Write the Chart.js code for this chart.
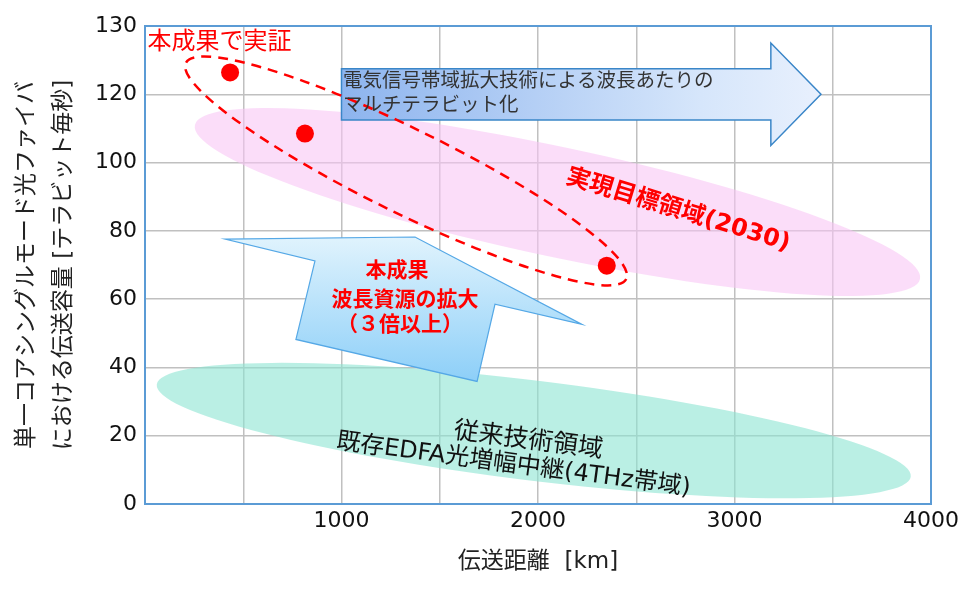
<!DOCTYPE html>
<html>
<head>
<meta charset="utf-8">
<script src="https://cdn.jsdelivr.net/npm/chart.js@4.4.1/dist/chart.umd.min.js"></script>
<style>
  html, body { margin: 0; padding: 0; background: #fff; }
</style>
</head>
<body>
<canvas id="chart" width="967" height="589"></canvas>
<script>
// measured results (distance km, capacity Tb/s)
const distanceKm = [433, 814, 2350];
const capacityTbps = [126.4, 108.5, 69.8];

const xTickValues = [0, 500, 1000, 1500, 2000, 2500, 3000, 3500, 4000];
const xTickLabels = ["", "", "1000", "", "2000", "", "3000", "", "4000"];
const yTickValues = [0, 20, 40, 60, 80, 100, 120, 140];
const yTickLabels = ["0", "20", "40", "60", "80", "100", "120", "130"];

const JP = "'Noto Sans CJK JP', 'Noto Sans', sans-serif";
const MIX = "'DejaVu Sans', 'Noto Sans CJK JP', sans-serif";
const NUM = "'DejaVu Sans', Verdana, sans-serif";

// annotation shapes, in axis units
const targetZone = { from: [254, 111.0], to: [3944, 65.9], half: 55 };
const legacyZone = { from: [60, 35.0], to: [3897, 8.0], half: 50 };
const provenZone = { from: [208, 129.2], to: [2449, 65.9], half: 42 };
const bandArrow = { x0: 1000, top: 127.5, bottom: 112.5, headX: 3185, headTop: 135, headBottom: 105, tipX: 3440, tipY: 120 };
const gridArrow = [[407, 77.6], [1374, 78.2], [2224, 52.6], [1781, 58.5], [1690, 35.9], [768, 48.2], [865, 71.2]];

function ellipsePath(ctx, p1, p2, b) {
  const cx = (p1[0] + p2[0]) / 2, cy = (p1[1] + p2[1]) / 2;
  const dx = p2[0] - p1[0], dy = p2[1] - p1[1];
  ctx.beginPath();
  ctx.ellipse(cx, cy, Math.hypot(dx, dy) / 2, b, Math.atan2(dy, dx), 0, Math.PI * 2);
}

function rotText(ctx, str, x, y, deg) {
  ctx.save();
  ctx.translate(x, y);
  ctx.rotate(deg * Math.PI / 180);
  ctx.fillText(str, 0, 0);
  ctx.restore();
}

const overlay = {
  id: 'overlay',
  beforeDatasetsDraw(chart) {
    const ctx = chart.ctx;
    const xs = chart.scales.x, ys = chart.scales.y;
    const P = (v) => [xs.getPixelForValue(v[0]), ys.getPixelForValue(v[1])];
    const X = (v) => xs.getPixelForValue(v), Y = (v) => ys.getPixelForValue(v);
    const area = chart.chartArea;

    ctx.save();
    // plot frame
    ctx.strokeStyle = '#5b9bd5';
    ctx.lineWidth = 2;
    ctx.strokeRect(area.left, area.top, area.right - area.left, area.bottom - area.top);

    // zones
    ellipsePath(ctx, P(legacyZone.from), P(legacyZone.to), legacyZone.half);
    ctx.fillStyle = 'rgba(140, 228, 210, 0.6)';
    ctx.fill();
    ellipsePath(ctx, P(targetZone.from), P(targetZone.to), targetZone.half);
    ctx.fillStyle = 'rgba(248, 196, 244, 0.58)';
    ctx.fill();

    // right arrow
    const a = bandArrow;
    let g = ctx.createLinearGradient(X(a.x0), 0, X(a.tipX), 0);
    g.addColorStop(0, '#8db4ee');
    g.addColorStop(0.75, '#d6e6fb');
    g.addColorStop(1, '#e8f0fd');
    ctx.beginPath();
    ctx.moveTo(X(a.x0), Y(a.top));
    ctx.lineTo(X(a.headX), Y(a.top));
    ctx.lineTo(X(a.headX), Y(a.headTop));
    ctx.lineTo(X(a.tipX), Y(a.tipY));
    ctx.lineTo(X(a.headX), Y(a.headBottom));
    ctx.lineTo(X(a.headX), Y(a.bottom));
    ctx.lineTo(X(a.x0), Y(a.bottom));
    ctx.closePath();
    ctx.fillStyle = g;
    ctx.fill();
    ctx.strokeStyle = '#3a86c8';
    ctx.lineWidth = 1.5;
    ctx.stroke();

    // tilted up arrow
    const pts = gridArrow.map(P);
    g = ctx.createLinearGradient(0, Y(78.2), 0, Y(35.9));
    g.addColorStop(0, '#e0f3fd');
    g.addColorStop(1, '#8dcff8');
    ctx.beginPath();
    pts.forEach((p, i) => i ? ctx.lineTo(p[0], p[1]) : ctx.moveTo(p[0], p[1]));
    ctx.closePath();
    ctx.fillStyle = g;
    ctx.fill();
    ctx.strokeStyle = '#55a8e6';
    ctx.lineWidth = 1.2;
    ctx.stroke();

    // dashed outline around measured points
    ellipsePath(ctx, P(provenZone.from), P(provenZone.to), provenZone.half);
    ctx.setLineDash([10, 7]);
    ctx.strokeStyle = '#ff0000';
    ctx.lineWidth = 2.5;
    ctx.stroke();
    ctx.setLineDash([]);

    // texts
    ctx.textBaseline = 'middle';
    ctx.fillStyle = '#ff0000';
    ctx.textAlign = 'center';
    ctx.font = `24px ${JP}`;
    ctx.fillText('本成果で実証', X(379), Y(136));

    ctx.textAlign = 'left';
    ctx.fillStyle = '#333333';
    ctx.font = `19.5px ${JP}`;
    ctx.fillText('電気信号帯域拡大技術による波長あたりの', X(1008), Y(124.4));
    ctx.fillText('マルチテラビット化', X(1008), Y(117.4));

    ctx.textAlign = 'center';
    ctx.fillStyle = '#ff0000';
    ctx.font = `bold 21px ${JP}`;
    ctx.fillText('本成果', X(1282), Y(68.8));
    ctx.fillText('波長資源の拡大', X(1323), Y(60.3));
    ctx.fillText('（３倍以上）', X(1298), Y(52.9));

    ctx.font = `bold 24px ${MIX}`;
    rotText(ctx, '実現目標領域(2030)', X(2712), Y(85.9), 17);

    ctx.fillStyle = '#111111';
    ctx.font = `25px ${JP}`;
    rotText(ctx, '従来技術領域', X(1952), Y(19.3), 7.5);
    ctx.font = `24px ${MIX}`;
    rotText(ctx, '既存EDFA光増幅中継(4THz帯域)', X(1875), Y(11.3), 7.5);
    ctx.restore();
  }
};

new Chart(document.getElementById('chart').getContext('2d'), {
  type: 'scatter',
  data: {
    datasets: [{
      data: distanceKm.map((d, i) => ({ x: d, y: capacityTbps[i] })),
      backgroundColor: '#ff0000',
      borderWidth: 0,
      pointRadius: 9,
      pointHoverRadius: 9,
    }],
  },
  options: {
    responsive: false,
    animation: false,
    events: [],
    layout: { padding: { left: 0, top: 26, right: 36, bottom: 0 } },
    plugins: { legend: { display: false }, tooltip: { enabled: false } },
    scales: {
      x: {
        type: 'linear',
        min: 0,
        max: 4000,
        afterFit: (s) => { s.height = 85; },
        afterBuildTicks: (s) => { s.ticks = xTickValues.map((v) => ({ value: v })); },
        ticks: {
          autoSkip: false,
          maxRotation: 0,
          padding: 4,
          color: '#111',
          font: { family: NUM, size: 22 },
          callback: (v) => xTickLabels[xTickValues.indexOf(v)],
        },
        grid: { color: '#c0c0c0', lineWidth: 1.5, drawTicks: false },
        border: { color: '#5b9bd5', width: 2 },
        title: {
          display: true,
          text: '伝送距離  [km]',
          color: '#222',
          font: { family: MIX, size: 23 },
          padding: { top: 0, bottom: 13 },
        },
      },
      y: {
        min: 0,
        max: 140,
        afterFit: (s) => { s.width = 145; },
        afterBuildTicks: (s) => { s.ticks = yTickValues.map((v) => ({ value: v })); },
        ticks: {
          autoSkip: false,
          padding: 8,
          color: '#111',
          font: { family: NUM, size: 22 },
          callback: (v) => yTickLabels[yTickValues.indexOf(v)],
        },
        grid: { color: '#c0c0c0', lineWidth: 1.5, drawTicks: false },
        border: { color: '#5b9bd5', width: 2 },
        title: {
          display: true,
          text: ['単一コアシングルモード光ファイバ', 'における伝送容量 [テラビット毎秒]'],
          color: '#222',
          font: { family: MIX, size: 23, lineHeight: 1.6 },
          padding: { top: 9, bottom: 0 },
        },
      },
    },
  },
  plugins: [overlay],
});
</script>
</body>
</html>
